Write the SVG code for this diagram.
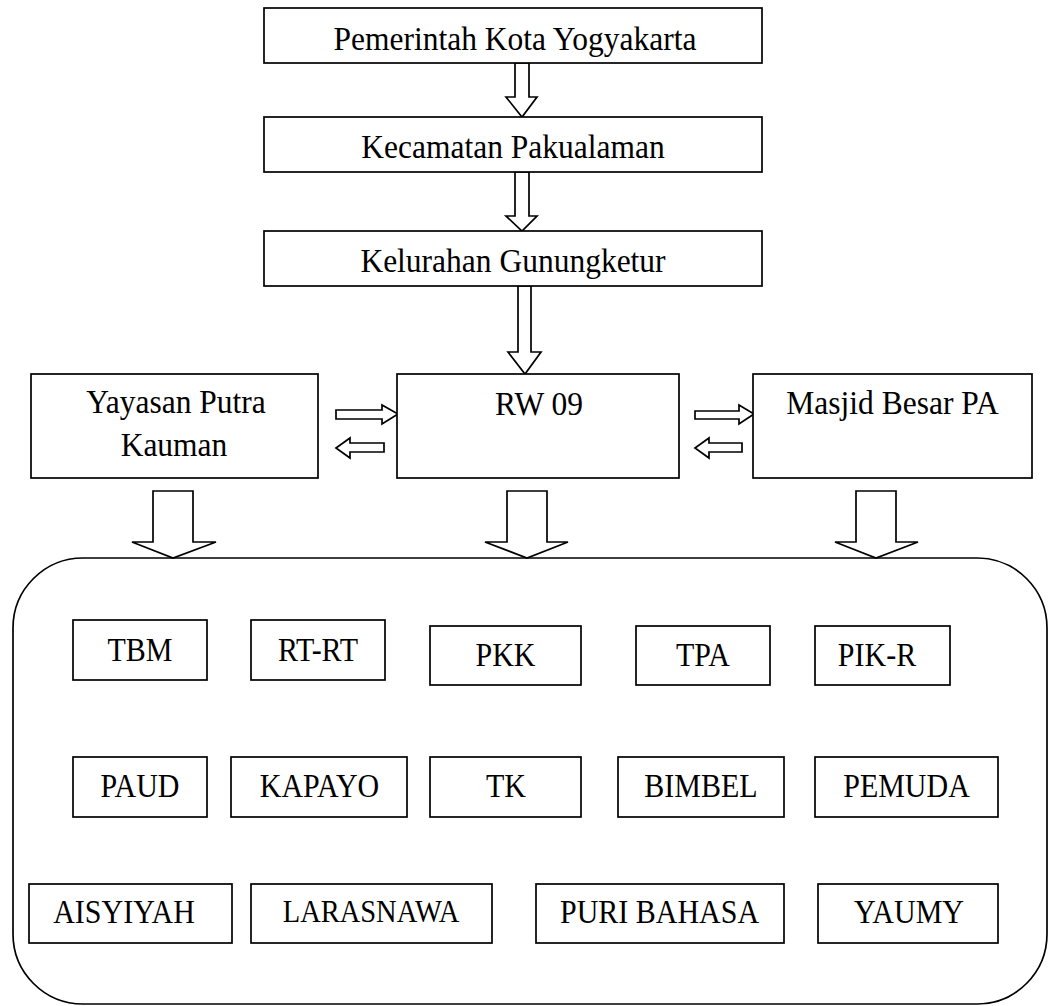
<svg xmlns="http://www.w3.org/2000/svg" width="1059" height="1006" viewBox="0 0 1059 1006">
<style>
  rect, polygon { fill: #fff; stroke: #000; stroke-width: 1.7; }
  text { font-family: 'Liberation Serif', 'DejaVu Serif', serif; fill: #000; text-anchor: middle; }
  .big { font-size: 31.5px; }
  .sm { font-size: 30px; }
</style>
<rect x="0" y="0" width="1059" height="1006" style="stroke:none"/>
<g id="container"><rect x="13" y="558" width="1034" height="446" rx="70" ry="70"/></g>
<g id="connectors">
  <polygon points="515,63 529,63 529,97 537,97 522,117 506,97 515,97"/>
  <polygon points="515,172 529,172 529,216 537,216 522,231 506,216 515,216"/>
  <polygon points="518,286 531,286 531,352 541,352 525,374 508,352 518,352"/>
  <polygon points="336,410 382,410 382,405 398,414 382,424 382,419 336,419"/>
  <polygon points="336,448 350,438 350,443 384,443 384,452 350,452 350,458"/>
  <polygon points="695,411 739,411 739,405 754,414 739,424 739,419 695,419"/>
  <polygon points="695,448 709,438 709,443 742,443 742,452 709,452 709,458"/>
  <polygon points="153,491 193,491 193,542 216,542 173,558 132,542 153,542"/>
  <polygon points="507,491 547,491 547,542 568,542 527,558 485,542 507,542"/>
  <polygon points="856,491 896,491 896,542 918,542 876,558 835,542 856,542"/>
</g>
<g id="n-pemkot"><rect x="264" y="8" width="498" height="55"/><text class="big" font-family="Liberation Serif, serif" transform="translate(515 50) scale(1 1.09)">Pemerintah Kota Yogyakarta</text></g>
<g id="n-kecamatan"><rect x="264" y="117" width="498" height="55"/><text class="big" transform="translate(513 158) scale(1 1.09)">Kecamatan Pakualaman</text></g>
<g id="n-kelurahan"><rect x="264" y="231" width="498" height="55"/><text class="big" transform="translate(513 272) scale(1 1.09)">Kelurahan Gunungketur</text></g>
<g id="n-yayasan"><rect x="31" y="374" width="287" height="104"/><text class="big" transform="translate(176 413) scale(1 1.09)">Yayasan Putra</text><text class="big" transform="translate(174 456) scale(1 1.09)">Kauman</text></g>
<g id="n-rw"><rect x="397" y="374" width="282" height="104"/><text class="big" transform="translate(539 415) scale(1 1.09)">RW 09</text></g>
<g id="n-masjid"><rect x="753" y="374" width="279" height="104"/><text class="big" transform="translate(892.5 414) scale(1 1.09)">Masjid Besar PA</text></g>
<g id="n-tbm"><rect x="73" y="620" width="134" height="60"/><text class="sm" transform="translate(140 661) scale(1 1.09)">TBM</text></g>
<g id="n-rtrt"><rect x="251" y="620" width="134" height="60"/><text class="sm" transform="translate(318 661) scale(1 1.09)">RT-RT</text></g>
<g id="n-pkk"><rect x="430" y="626" width="151" height="59"/><text class="sm" transform="translate(505.5 666) scale(1 1.09)">PKK</text></g>
<g id="n-tpa"><rect x="636" y="626" width="134" height="59"/><text class="sm" transform="translate(703 666) scale(1 1.09)">TPA</text></g>
<g id="n-pikr"><rect x="815" y="626" width="135" height="59"/><text class="sm" transform="translate(877 666) scale(1 1.09)">PIK-R</text></g>
<g id="n-paud"><rect x="73" y="757" width="134" height="60"/><text class="sm" transform="translate(140 797) scale(1 1.09)">PAUD</text></g>
<g id="n-kapayo"><rect x="231" y="757" width="176" height="60"/><text class="sm" transform="translate(319.5 797) scale(1 1.09)">KAPAYO</text></g>
<g id="n-tk"><rect x="430" y="757" width="151" height="60"/><text class="sm" transform="translate(506 797) scale(1 1.09)">TK</text></g>
<g id="n-bimbel"><rect x="618" y="757" width="166" height="60"/><text class="sm" transform="translate(701 797) scale(1 1.09)">BIMBEL</text></g>
<g id="n-pemuda"><rect x="815" y="757" width="183" height="60"/><text class="sm" transform="translate(906.5 797) scale(1 1.09)">PEMUDA</text></g>
<g id="n-aisyiyah"><rect x="29" y="884" width="203" height="59"/><text class="sm" transform="translate(124 923) scale(1 1.09)">AISYIYAH</text></g>
<g id="n-larasnawa"><rect x="251" y="884" width="241" height="59"/><text class="sm" transform="translate(371 922) scale(1 1.09)" style="font-size:28.5px">LARASNAWA</text></g>
<g id="n-puri"><rect x="536" y="884" width="248" height="59"/><text class="sm" transform="translate(659.5 923) scale(1 1.09)">PURI BAHASA</text></g>
<g id="n-yaumy"><rect x="818" y="884" width="180" height="59"/><text class="sm" transform="translate(909 923) scale(1 1.09)">YAUMY</text></g>
</svg>
